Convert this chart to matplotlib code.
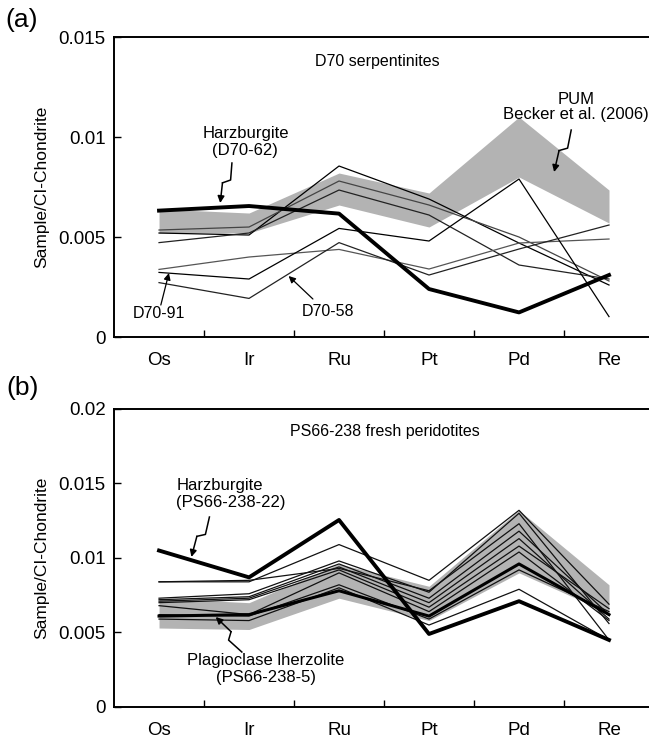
import numpy as np
import matplotlib
matplotlib.use('Agg')
import matplotlib.pyplot as plt

plt.rcParams['font.family'] = ['Liberation Sans', 'DejaVu Sans']

elements = ['Os', 'Ir', 'Ru', 'Pt', 'Pd', 'Re']

# (a) D70 serpentinites
pum_lo = [0.0052, 0.0052, 0.0066, 0.0055, 0.0080, 0.0057]
pum_hi = [0.0064, 0.0062, 0.0082, 0.0072, 0.0110, 0.00735]
d70_62 = [0.00632, 0.00655, 0.00617, 0.0024, 0.00123, 0.0031]
d70_91 = [0.00323, 0.0029, 0.00543, 0.0048, 0.0079, 0.00102]
d70_58 = [0.00272, 0.00193, 0.00472, 0.0031, 0.0044, 0.0056]
a_s1 = [0.0052, 0.0051, 0.00855, 0.0069, 0.0047, 0.0026]
a_s2 = [0.00535, 0.0055, 0.0078, 0.0066, 0.0050, 0.0028]
a_s3 = [0.00472, 0.0052, 0.00735, 0.0061, 0.0036, 0.0029]
a_s4 = [0.00338, 0.0040, 0.00438, 0.0034, 0.0047, 0.0049]

# (b) PS66-238 fresh peridotites
band_lo = [0.0053, 0.0052, 0.0073, 0.0058, 0.0090, 0.0063]
band_hi = [0.0073, 0.0070, 0.0096, 0.0081, 0.0132, 0.0082]
ps_22 = [0.0105, 0.0087, 0.01255, 0.0049, 0.0071, 0.0045]
ps_5 = [0.0061, 0.0062, 0.0078, 0.0061, 0.0096, 0.0062]
b_s1 = [0.0084, 0.0084, 0.0109, 0.0085, 0.0132, 0.0069]
b_s2 = [0.0084, 0.0085, 0.0093, 0.0078, 0.0123, 0.0045]
b_s3 = [0.0073, 0.0076, 0.0098, 0.0077, 0.0130, 0.0056]
b_s4 = [0.0072, 0.0074, 0.0096, 0.0073, 0.0118, 0.0062]
b_s5 = [0.0071, 0.0073, 0.0094, 0.0070, 0.0113, 0.0059]
b_s6 = [0.0070, 0.0072, 0.0092, 0.0067, 0.0108, 0.0066]
b_s7 = [0.0068, 0.0062, 0.0090, 0.0064, 0.0104, 0.0058]
b_s8 = [0.0062, 0.0061, 0.0082, 0.0059, 0.0092, 0.0064]
b_s9 = [0.0059, 0.0058, 0.0080, 0.0055, 0.0079, 0.0045]

x = np.arange(len(elements))

fig = plt.figure(figsize=(6.49, 7.42), dpi=100)
ax1 = fig.add_axes([0.1757, 0.5458, 0.832, 0.4043])
ax2 = fig.add_axes([0.1757, 0.0472, 0.832, 0.4016])


def style(ax, ymax, yticks, ylabels):
    ax.set_xlim(-0.5, 5.5)
    ax.set_ylim(0, ymax)
    ax.set_xticks(x)
    ax.set_xticklabels(elements)
    ax.set_xticks(x[:-1] + 0.5, minor=True)
    ax.tick_params(axis='x', which='major', length=0, pad=11, labelsize=13.5)
    ax.tick_params(axis='x', which='minor', direction='in', length=5, width=1)
    ax.set_yticks(yticks)
    ax.set_yticklabels(ylabels)
    ax.tick_params(axis='y', direction='in', length=5, width=1, pad=6, labelsize=13.5)
    ax.spines['right'].set_visible(False)
    for s in ['left', 'bottom', 'top']:
        ax.spines[s].set_linewidth(1.4)
    ax.set_ylabel('Sample/CI-Chondrite', fontsize=12.5, labelpad=7)


def bolt(ax, start, end, jog=3.5):
    # zigzag leader ending in an arrowhead
    t = ax.transData
    s = np.array(t.transform(start))
    e = np.array(t.transform(end))
    d = e - s
    n = np.array([-d[1], d[0]]) / np.hypot(d[0], d[1])
    pts = np.array([s, s + 0.4 * d + n * jog, s + 0.52 * d - n * jog])
    p = t.inverted().transform(pts)
    ax.plot(p[:, 0], p[:, 1], color='k', lw=1.1)
    ax.annotate('', xy=end, xytext=(p[-1, 0], p[-1, 1]),
                arrowprops=dict(arrowstyle='-|>', color='k', lw=1.1,
                                mutation_scale=10, shrinkA=0, shrinkB=0))


def arrow(ax, start, end):
    ax.annotate('', xy=end, xytext=start,
                arrowprops=dict(arrowstyle='-|>', color='k', lw=0.9,
                                mutation_scale=10, shrinkA=0, shrinkB=0))


# panel a
style(ax1, 0.015, [0, 0.005, 0.01, 0.015], ['0', '0.005', '0.01', '0.015'])
ax1.fill_between(x, pum_lo, pum_hi, color='#b3b3b3', lw=0)
for s, c in [(a_s1, 'k'), (a_s2, '#444444'), (a_s3, '#222222'), (a_s4, '#555555'),
             (d70_91, 'k'), (d70_58, '#222222')]:
    ax1.plot(x, s, color=c, lw=0.9)
ax1.plot(x, d70_62, color='k', lw=2.8)

ax1.text(2.42, 0.0138, 'D70 serpentinites', ha='center', va='center', fontsize=11.5)
ax1.text(0.96, 0.00975, 'Harzburgite\n(D70-62)', ha='center', va='center',
         fontsize=12, linespacing=1.15)
bolt(ax1, (0.81, 0.0087), (0.68, 0.0067))
ax1.text(4.63, 0.01148, 'PUM\nBecker et al. (2006)', ha='center', va='center',
         fontsize=12, linespacing=1.0)
bolt(ax1, (4.58, 0.01035), (4.39, 0.00825))
ax1.text(0.0, 0.0012, 'D70-91', ha='center', va='center', fontsize=11.5)
arrow(ax1, (0.02, 0.0016), (0.11, 0.0032))
ax1.text(1.88, 0.0013, 'D70-58', ha='center', va='center', fontsize=11.5)
arrow(ax1, (1.71, 0.0019), (1.44, 0.00305))

# panel b
style(ax2, 0.02, [0, 0.005, 0.01, 0.015, 0.02], ['0', '0.005', '0.01', '0.015', '0.02'])
ax2.fill_between(x, band_lo, band_hi, color='#b3b3b3', lw=0)
for s in [b_s1, b_s2, b_s3, b_s4, b_s5, b_s6, b_s7, b_s8, b_s9]:
    ax2.plot(x, s, color='#111111', lw=0.9)
ax2.plot(x, ps_5, color='k', lw=2.2)
ax2.plot(x, ps_22, color='k', lw=2.8)

ax2.text(2.51, 0.01852, 'PS66-238 fresh peridotites', ha='center', va='center', fontsize=11.5)
ax2.text(0.19, 0.0143, 'Harzburgite\n(PS66-238-22)', ha='left', va='center',
         fontsize=12, linespacing=1.15)
bolt(ax2, (0.56, 0.01275), (0.36, 0.01007))
ax2.text(1.19, 0.00255, 'Plagioclase lherzolite\n(PS66-238-5)', ha='center', va='center',
         fontsize=12, linespacing=1.15)
bolt(ax2, (0.92, 0.00369), (0.63, 0.00604))

fig.text(0.034, 0.973, '(a)', ha='center', va='center', fontsize=19)
fig.text(0.034, 0.477, '(b)', ha='center', va='center', fontsize=19)

fig.savefig('out.png', dpi=100)
plt.close()
